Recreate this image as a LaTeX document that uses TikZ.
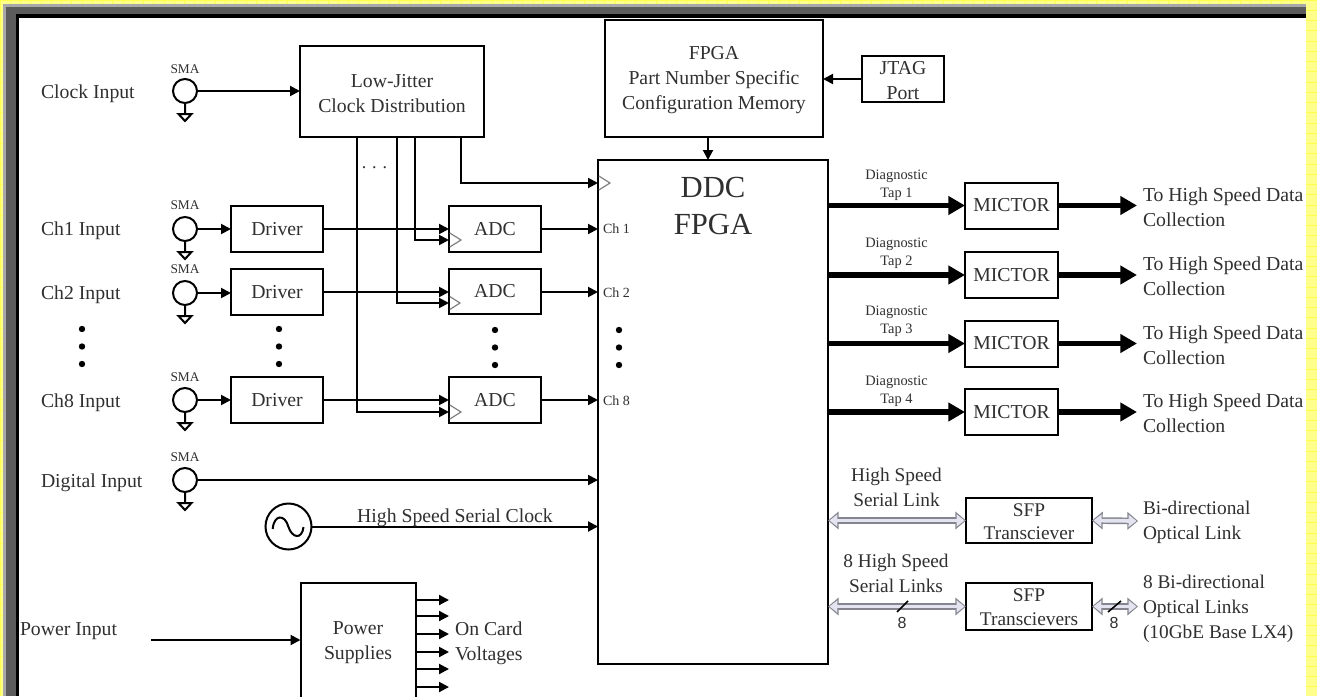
\documentclass[tikz,border=0pt]{standalone}
\usepackage{fontspec}
\setmainfont{Liberation Serif}
\newfontfamily\labsans{Liberation Sans}
\usetikzlibrary{arrows.meta}
\definecolor{ink}{HTML}{303030}
\definecolor{yel}{HTML}{FFFF8C}
\definecolor{yelline}{HTML}{FFFF4D}
\definecolor{frameA}{HTML}{A8A8A8}
\definecolor{frameB}{HTML}{5C5C5C}
\definecolor{lavender}{HTML}{E4E4F0}
\definecolor{linkgray}{HTML}{85858F}
\tikzset{
  bx/.style={draw=black,line width=1.5pt,fill=white,inner sep=0pt,outer sep=0pt,align=center,text=ink,font=\fontsize{14.8}{18.75}\selectfont},
  txt/.style={inner sep=0pt,outer sep=0pt,text=ink,font=\fontsize{14.8}{18.75}\selectfont},
  txtl/.style={txt,anchor=west,align=left},
  txtc/.style={txt,align=center},
  txts/.style={inner sep=0pt,outer sep=0pt,text=ink,font=\fontsize{14.5}{18.75}\selectfont},
  sfpt/.style={inner sep=0pt,outer sep=0pt,text=ink,align=center,font=\fontsize{14.5}{17.6}\selectfont},
  small/.style={inner sep=0pt,outer sep=0pt,text=ink,align=center,font=\fontsize{10}{13.5}\selectfont},
  tapl/.style={inner sep=0pt,outer sep=0pt,text=ink,align=center,font=\fontsize{10.8}{13.5}\selectfont},
  chl/.style={inner sep=0pt,outer sep=0pt,text=ink,anchor=west,font=\fontsize{10.5}{12}\selectfont},
  num/.style={inner sep=0pt,text=ink,font=\labsans\fontsize{12}{14}\selectfont},
  arr/.style={draw=black,line width=1.5pt,-{Triangle[length=7.5pt,width=7.5pt]}},
  thick arr/.style={draw=black,line width=4.2pt,-{Triangle[length=12.5pt,width=13.5pt]}},
  linkout/.style={draw=linkgray,line width=5pt,{Triangle[length=8pt,width=13pt]}-{Triangle[length=8pt,width=13pt]}},
  linkin/.style={draw=lavender,line width=2.8pt,shorten <=1.1pt,shorten >=1.1pt,{Triangle[length=6pt,width=9pt]}-{Triangle[length=6pt,width=9pt]}},
  port/.style={circle,draw=black,line width=1.5pt,fill=white,minimum size=18pt,inner sep=0pt,outer sep=0pt},
  dotn/.style={circle,fill=black,minimum size=4.8pt,inner sep=0pt,outer sep=0pt},
  clk tri/.style={draw=gray,line width=0.9pt},
  slashl/.style={draw=black,line width=1.2pt}
}
\newcommand{\smaport}[4]{% name, x, y, label y
  \node[port] (#1) at (#2,#3) {};
  \node[small] (#1lab) at (#2,#4) {SMA};
  \draw[line width=1.5pt] (#1.south) -- ++(0,11) -- ++(-6.5,0) -- ++(6.5,7) -- ++(6.5,-7) -- ++(-6.5,0);
}
\newcommand{\threedots}[3]{% name, x, first y
  \node[dotn] (#1a) at (#2,#3) {};
  \node[dotn] (#1b) at (#2,#3+17.5) {};
  \node[dotn] (#1c) at (#2,#3+35) {};
}
\begin{document}
\begin{tikzpicture}[x=0.75pt,y=-0.75pt]
\useasboundingbox (0,0) rectangle (1317,696);
\clip (0,0) rectangle (1317,696);
% page background
\fill[yel] (0,0) rectangle (1317,696);
\foreach \i in {0,...,130} {\draw[yelline,line width=0.5pt] (\i*10.25,0) -- (\i*10.25,696);}
\foreach \i in {0,...,68} {\draw[yelline,line width=0.5pt] (0,\i*10.25) -- (1317,\i*10.25);}
% frame
\fill[frameA] (3,4) rectangle (1306,696);
\fill[frameB] (6,7) rectangle (1306,696);
\fill[black] (16,14) rectangle (1306,696);
\fill[white] (19,18) rectangle (1306,696);

% left labels
\node[txtl] (lclk) at (41,93.5) {Clock Input};
\node[txtl] (lch1) at (41,231) {Ch1 Input};
\node[txtl] (lch2) at (41,295) {Ch2 Input};
\node[txtl] (lch8) at (41,403) {Ch8 Input};
\node[txtl] (ldig) at (41,482.5) {Digital Input};
\node[txtl] (lpow) at (20,631) {Power Input};
\threedots{dl}{82}{329}
\threedots{dd}{279}{329}
\threedots{da}{495}{330}
\threedots{df}{619}{330}

% boxes
\node[bx,minimum width=138pt,minimum height=68.25pt] (clk) at (392,91.5) {};
\node[txtc] (clkt) at (392,94) {Low-Jitter\\Clock Distribution};
\node[bx,minimum width=163.5pt,minimum height=88pt] (mem) at (714,78.2) {};
\node[txtc] (memt) at (714,80.5) {FPGA\\Part Number Specific\\Configuration Memory};
\node[bx,minimum width=61.5pt,minimum height=34.5pt] (jtag) at (903,79) {};
\node[txtc] (jtagt) at (903,80.5) {JTAG\\Port};
\node[draw=black,line width=1.5pt,inner sep=0pt,outer sep=0pt,minimum width=172.5pt,minimum height=378pt] (fpga) at (713,412) {};
\node[inner sep=0pt,text=ink,align=center,font=\fontsize{23}{27.75}\selectfont] (fpgat) at (713,206) {DDC\\FPGA};

\node[bx,minimum width=69pt,minimum height=34.5pt] (drv1) at (277,229) {Driver};
\node[bx,minimum width=69pt,minimum height=34.5pt] (drv2) at (277,292) {Driver};
\node[bx,minimum width=69pt,minimum height=34.5pt] (drv8) at (277,400) {Driver};
\node[bx,minimum width=69pt,minimum height=34.5pt] (adc1) at (495,229) {ADC};
\node[bx,minimum width=69pt,minimum height=34pt] (adc2) at (495,291.5) {ADC};
\node[bx,minimum width=69pt,minimum height=34.5pt] (adc8) at (495,400) {ADC};

\foreach \n/\cy in {mic1/205.5,mic2/275,mic3/343.5,mic4/412} {
  \node[bx,minimum width=69.75pt,minimum height=34.5pt] (\n) at (1011.5,\cy) {MICTOR};
}
\node[bx,minimum width=94.5pt,minimum height=33.75pt] (sfp1) at (1029,520.5) {};
\node[sfpt] (sfp1t) at (1029,521.5) {SFP\\Transciever};
\node[bx,minimum width=94.5pt,minimum height=35pt] (sfp2) at (1029,606.5) {};
\node[sfpt] (sfp2t) at (1029,607) {SFP\\Transcievers};
\node[bx,minimum width=86.25pt,minimum height=86.25pt] (pow) at (358,640.5) {};
\node[txtc] (powt) at (358,643) {Power\\Supplies};

% SMA ports
\smaport{s0}{185}{91}{69}
\smaport{s1}{185}{229}{205}
\smaport{s2}{185}{293}{269}
\smaport{s8}{185}{400}{377}
\smaport{sd}{185}{480}{457}

% oscillator
\node[circle,draw=black,line width=1.5pt,fill=white,minimum size=34.5pt,inner sep=0pt,outer sep=0pt] (osc) at (288.5,526.5) {};
\draw[line width=1.5pt] (272.7,529) .. controls (274,514) and (285,514) .. (288.5,527) .. controls (292,538) and (302,540) .. (303.5,527);

% inputs
\draw[arr] (s0.east) -- (clk.west |- s0);
\draw[arr] (s1.east) -- (drv1.west);
\draw[arr] (s2.east) -- (drv2.west |- s2);
\draw[arr] (s8.east) -- (drv8.west);
\draw[arr] (sd.east) -- (fpga.west |- sd);
\draw[arr] (osc.east) -- (fpga.west |- osc);
\node[txt] (hssc) at (455,518) {High Speed Serial Clock};

% data paths
\draw[arr] (drv1.east) -- (adc1.west);
\draw[arr] (drv2.east) -- (adc2.west |- drv2);
\draw[arr] (drv8.east) -- (adc8.west);
\draw[arr] (adc1.east) -- (fpga.west |- adc1);
\draw[arr] (adc2.east |- drv2) -- (fpga.west |- drv2);
\draw[arr] (adc8.east) -- (fpga.west |- adc8);

% clock distribution
\coordinate (c8) at (357,412);
\coordinate (c2) at (397,303);
\coordinate (c1) at (415,240);
\coordinate (cf) at (460.5,183);
\draw[arr] (clk.south -| c8) |- (adc8.west |- c8);
\draw[arr] (clk.south -| c2) |- (adc2.west |- c2);
\draw[arr] (clk.south -| c1) |- (adc1.west |- c1);
\draw[arr] (clk.south -| cf) |- (fpga.west |- cf);
\node[inner sep=0pt,text=ink,font=\fontsize{13.5}{16}\selectfont] (cdots) at (374.5,168) {.\,\,.\,\,.};
% clock inputs markers
\draw[clk tri] (449.8,233) -- (461,240) -- (449.8,247);
\draw[clk tri] (449.8,296.5) -- (460,303) -- (449.8,309.5);
\draw[clk tri] (449.8,405) -- (461,412) -- (449.8,419);
\draw[clk tri] (598.8,176) -- (610,183) -- (598.8,190);

% channel labels
\node[chl] (ch1) at (603,228.5) {Ch 1};
\node[chl] (ch2) at (603,293) {Ch 2};
\node[chl] (ch8) at (603,400.5) {Ch 8};

% memory and JTAG
\draw[arr] (jtag.west) -- (mem.east |- jtag);
\coordinate (mdrop) at (708,148);
\draw[arr] (mem.south -| mdrop) -- (fpga.north -| mdrop);

% diagnostic taps
\coordinate (xout) at (1137,0);
\foreach \n/\t/\a in {mic1/1/185.5,mic2/2/253.5,mic3/3/321.5,mic4/4/391.5} {
  \draw[thick arr] (fpga.east |- \n) -- (\n.west);
  \coordinate (\n out) at (xout |- \n);
  \draw[thick arr] (\n.east) -- (\n out);
  \node[tapl] (\n tap) at (896.5,\a) {Diagnostic\\Tap \t};
}
\node[txtl] (tohs1) at (1143,207.5) {To High Speed Data\\Collection};
\node[txtl] (tohs2) at (1143,276.5) {To High Speed Data\\Collection};
\node[txtl] (tohs3) at (1143,345.5) {To High Speed Data\\Collection};
\node[txtl] (tohs4) at (1143,413.5) {To High Speed Data\\Collection};

% serial links
\coordinate (ol1) at (1138,521);
\coordinate (ol2) at (1138,606.5);
\draw[linkout] (fpga.east |- sfp1) -- (sfp1.west);
\draw[linkin]  (fpga.east |- sfp1) -- (sfp1.west);
\draw[linkout] (sfp1.east) -- (ol1);
\draw[linkin]  (sfp1.east) -- (ol1);
\draw[linkout] (fpga.east |- sfp2) -- (sfp2.west);
\draw[linkin]  (fpga.east |- sfp2) -- (sfp2.west);
\draw[linkout] (sfp2.east) -- (ol2);
\draw[linkin]  (sfp2.east) -- (ol2);
\draw[slashl] (897,612) -- (908,601);
\draw[slashl] (1108,612) -- (1121,601);
\node[num] (n8a) at (902,623) {8};
\node[num] (n8b) at (1114,623) {8};
\node[txts,align=center] (hsl) at (896.5,487) {High Speed\\Serial Link};
\node[txts,align=center] (hsl8) at (896,573.5) {8 High Speed\\Serial Links};
\node[txts,anchor=west,align=left] (bidi) at (1143,522) {Bi-directional\\Optical Link};
\node[txts,anchor=west,align=left] (bidi8) at (1143,609) {8 Bi-directional\\Optical Links\\(10GbE Base LX4)};

% power
\coordinate (p0) at (301,640);
\coordinate (p1) at (151,640);
\draw[arr] (p1) -- (pow.west |- p0);
\foreach \k/\yy in {a/600,b/616,c/634,d/652,e/669,f/687} {
  \coordinate (po\k) at (449,\yy);
  \draw[arr] (pow.east |- po\k) -- (po\k);
}
\node[txtl] (volt) at (455,643) {On Card\\Voltages};

% right page strip on top
\fill[yel] (1306,0) rectangle (1317,696);
\foreach \i in {0,...,68} {\draw[yelline,line width=0.5pt] (1306,\i*10.25) -- (1317,\i*10.25);}
\end{tikzpicture}
\end{document}
